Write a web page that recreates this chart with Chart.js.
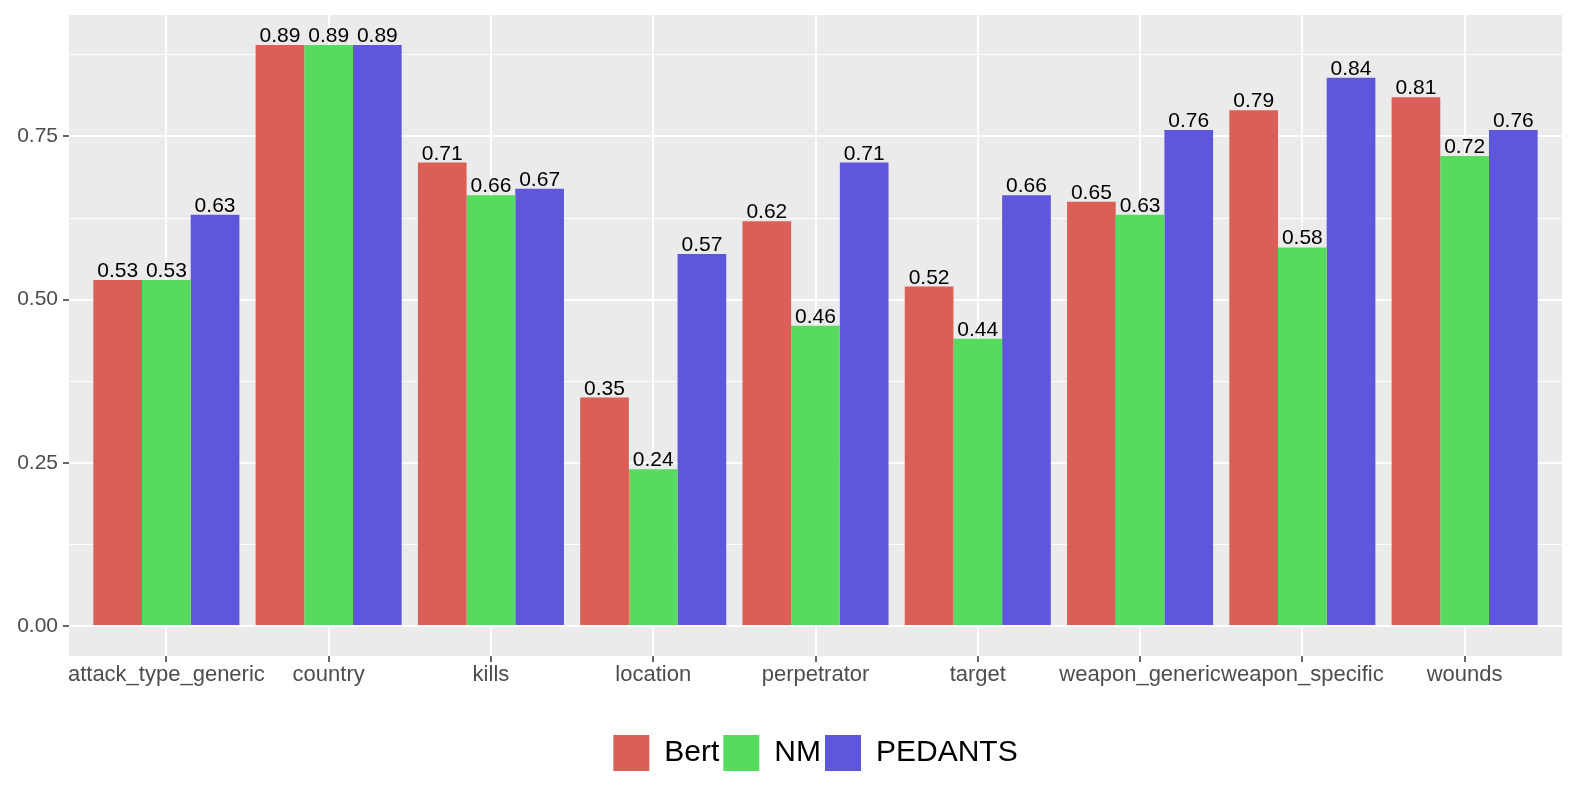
<!DOCTYPE html>
<html>
<head>
<meta charset="utf-8">
<script src="https://cdn.jsdelivr.net/npm/chart.js@4"></script>
<style>
  html, body { margin: 0; padding: 0; background: #fff; }
</style>
</head>
<body>
<canvas id="chart" width="1578" height="789"></canvas>
<script>
// fields on the x axis
var categories = ["attack_type_generic", "country", "kills", "location", "perpetrator",
                  "target", "weapon_generic", "weapon_specific", "wounds"];

// scores per model
var bert    = [0.53, 0.89, 0.71, 0.35, 0.62, 0.52, 0.65, 0.79, 0.81];
var nm      = [0.53, 0.89, 0.66, 0.24, 0.46, 0.44, 0.63, 0.58, 0.72];
var pedants = [0.63, 0.89, 0.67, 0.57, 0.71, 0.66, 0.76, 0.84, 0.76];

var seriesNames = ["Bert", "NM", "PEDANTS"];
var yTicks = [0, 0.125, 0.25, 0.375, 0.5, 0.625, 0.75, 0.875];

var red = "#DB5F57", green = "#57DB5E", blue = "#5F57DB";
var font = "'Liberation Sans', Helvetica, Arial, sans-serif";

function toPoints(arr) {
  return arr.map(function (v, i) { return { x: i + 1, y: v }; });
}

function isMajor(v) {
  return Math.abs(v / 0.25 - Math.round(v / 0.25)) < 1e-6;
}

// grey ggplot panel behind the grid
var panelBg = {
  id: "panelBg",
  beforeDraw: function (chart) {
    var a = chart.chartArea, c = chart.ctx;
    c.save();
    c.fillStyle = "#EBEBEB";
    c.fillRect(a.left, a.top, a.right - a.left, a.bottom - a.top);
    c.restore();
  }
};

// numbers on top of each bar
var valueLabels = {
  id: "valueLabels",
  afterDatasetsDraw: function (chart) {
    var c = chart.ctx;
    c.save();
    c.font = "21px " + font;
    c.fillStyle = "#000";
    c.textAlign = "center";
    c.textBaseline = "alphabetic";
    chart.data.datasets.forEach(function (ds, di) {
      chart.getDatasetMeta(di).data.forEach(function (bar, i) {
        c.fillText(ds.data[i].y.toFixed(2), bar.x, bar.y - 3);
      });
    });
    c.restore();
  }
};

new Chart(document.getElementById("chart"), {
  type: "bar",
  data: {
    datasets: [
      { label: seriesNames[0], data: toPoints(bert),    backgroundColor: red },
      { label: seriesNames[1], data: toPoints(nm),      backgroundColor: green },
      { label: seriesNames[2], data: toPoints(pedants), backgroundColor: blue }
    ]
  },
  options: {
    responsive: false,
    animation: false,
    datasets: { bar: { barPercentage: 1.0, categoryPercentage: 0.9 } },
    layout: { padding: { top: 15, right: 16, bottom: 8, left: 0 } },
    plugins: {
      tooltip: { enabled: false },
      legend: {
        position: "bottom",
        fullSize: false,
        labels: {
          boxWidth: 36,
          boxHeight: 36,
          padding: 4,
          color: "#000",
          font: { family: font, size: 30 }
        }
      }
    },
    scales: {
      x: {
        type: "linear",
        min: 0.4,
        max: 9.6,
        offset: false,
        afterBuildTicks: function (scale) {
          scale.ticks = categories.map(function (c, i) { return { value: i + 1 }; });
        },
        afterFit: function (scale) {
          scale.height = 75;
          scale.paddingLeft = 0;
          scale.paddingRight = 0;
        },
        ticks: {
          autoSkip: false,
          maxRotation: 0,
          padding: 0,
          color: "#4D4D4D",
          font: { family: font, size: 22 },
          callback: function (v) { return categories[Math.round(v) - 1]; }
        },
        grid: {
          offset: false,
          color: "#FFFFFF",
          lineWidth: 2,
          tickColor: "#333333",
          tickLength: 6,
          tickWidth: 1.5
        },
        border: { display: false }
      },
      y: {
        min: -0.046,
        max: 0.936,
        afterBuildTicks: function (scale) {
          scale.ticks = yTicks.map(function (v) { return { value: v }; });
        },
        afterFit: function (scale) {
          scale.width = 69;
          scale.paddingTop = 0;
          scale.paddingBottom = 0;
        },
        ticks: {
          padding: 5,
          color: "#4D4D4D",
          font: { family: font, size: 21 },
          callback: function (v) { return isMajor(v) ? v.toFixed(2) : ""; }
        },
        grid: {
          color: "#FFFFFF",
          lineWidth: function (ctx) { return ctx.tick && isMajor(ctx.tick.value) ? 2 : 1; },
          tickColor: function (ctx) { return ctx.tick && isMajor(ctx.tick.value) ? "#333333" : "rgba(0,0,0,0)"; },
          tickLength: 6,
          tickWidth: 1.5
        },
        border: { display: false }
      }
    }
  },
  plugins: [panelBg, valueLabels]
});
</script>
</body>
</html>
